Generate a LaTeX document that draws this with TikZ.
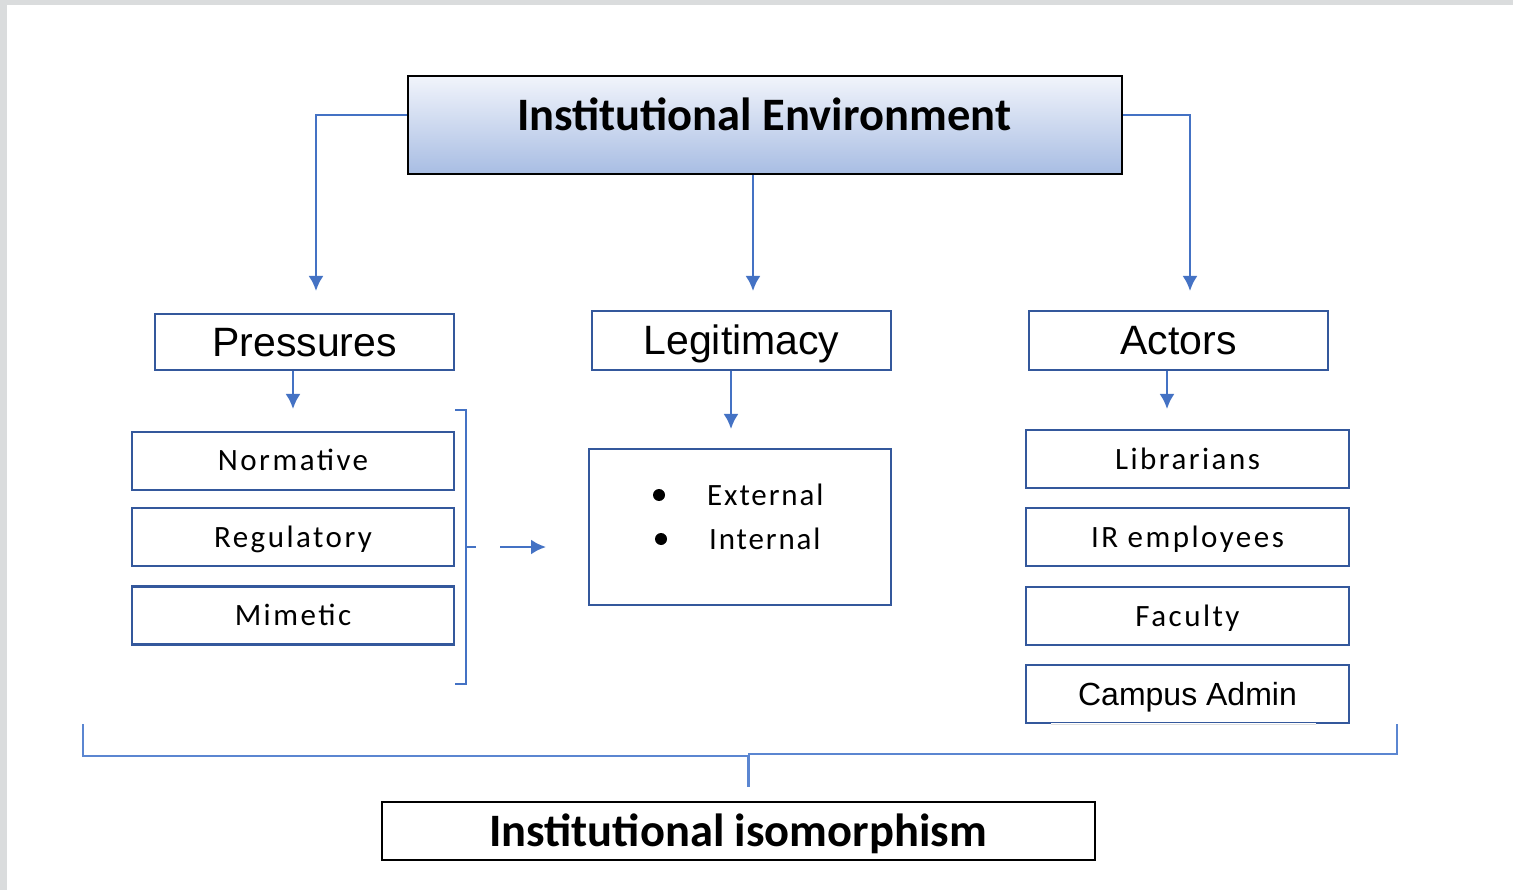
\documentclass[tikz,border=0pt]{standalone}
\usepackage{fontspec}
\usepackage{tikz}
\usetikzlibrary{arrows.meta}
\tikzset{>={Latex[length=12pt,width=13pt]}}
\newfontfamily\calibri{Carlito}
\newfontfamily\calibrisp[LetterSpace=8]{Carlito}
\newfontfamily\calibrisq[LetterSpace=6]{Carlito}
\newfontfamily\arial{Liberation Sans}
\definecolor{boxblue}{HTML}{34589C}
\definecolor{lineblue}{HTML}{4472C4}
\definecolor{brkblue}{HTML}{5B86D1}
\definecolor{envtop}{HTML}{F1F4FB}
\definecolor{envbot}{HTML}{A8BDE3}
\definecolor{framegray}{HTML}{DADCDD}

\begin{document}
\begin{tikzpicture}[x=1pt,y=-1pt,
    headbox/.style={draw=boxblue,line width=2.5pt,minimum width=299pt,minimum height=59pt,inner sep=0pt,text height=29pt,text depth=0pt,font=\arial\fontsize{41}{48}\selectfont},
    subbox/.style={draw=boxblue,line width=2.5pt,minimum width=322pt,minimum height=58pt,inner sep=0pt,text height=20pt,text depth=0pt,font=\calibrisp\fontsize{31}{36}\selectfont},
    titlebox/.style={draw=black,line width=2.5pt,inner sep=0pt},
    titletext/.style={inner sep=0pt,font=\calibri\bfseries\fontsize{46.5}{56}\selectfont},
    conn/.style={draw=lineblue,line width=2.5pt},
    arr/.style={-{Latex[length=15pt,width=15pt]}}]
    \useasboundingbox (0,0) rectangle (1513,890);
    \fill[framegray] (0,0) rectangle (1513,890);
    \fill[white] (7,5) rectangle (1513,890);

    \node[titlebox,minimum width=714pt,minimum height=98pt,top color=envtop,bottom color=envbot] (env) at (765,125) {};
    \node[titletext] (envtxt) at (764,114) {Institutional Environment};

    \node[headbox,minimum height=56pt] (press) at (304.5,342) {Pressures};
    \node[headbox] (legit) at (741.5,340.5) {Legitimacy};
    \node[headbox] (actors) at (1178.5,340.5) {Actors};

    \coordinate (pin) at (316,291);
    \coordinate (lin) at (753,291);
    \coordinate (ain) at (1190,291);
    \draw[conn,arr] ([yshift=10pt]env.west) -| (pin);
    \draw[conn,arr] (env.south -| lin) -- (lin);
    \draw[conn,arr] ([yshift=10pt]env.east) -| (ain);

    \foreach \y/\t/\n in {461/Normative/nor,537/Regulatory/reg,615.5/Mimetic/mim} {
      \node[subbox] (\n) at (293,\y) {\t};
    }
    \foreach \y/\t/\n in {459/Librarians/lib,537/IR employees/ire,616/Faculty/fac} {
      \node[subbox,minimum width=323pt] (\n) at (1187.5,\y) {\t};
    }
    \node[subbox,minimum width=323pt,text height=22pt,font=\arial\fontsize{32}{38}\selectfont] (cam) at (1187.5,694) {Campus Admin};
    \draw[white,line width=3pt] ([xshift=26pt]cam.south west) -- ([xshift=-34pt]cam.south east);
    \draw[gray!25,line width=1pt] ([xshift=26pt]cam.south west) -- ([xshift=-34pt]cam.south east);

    \node[draw=boxblue,line width=2.5pt,minimum width=302pt,minimum height=156pt,inner sep=0pt] (ext) at (740,527) {};
    \fill (659,495) circle (6);
    \fill (661,539) circle (6);
    \node[anchor=west,inner sep=0pt,font=\calibrisq\fontsize{31}{36}\selectfont] (extxt) at (707,495) {External};
    \node[anchor=west,inner sep=0pt,font=\calibrisq\fontsize{31}{36}\selectfont] (intxt) at (709,539) {Internal};

    \coordinate (psub) at (293,409);
    \coordinate (lsub) at (731,429);
    \coordinate (asub) at (1167,409);
    \draw[conn,arr] (press.south -| psub) -- (psub);
    \draw[conn,arr] (legit.south -| lsub) -- (lsub);
    \draw[conn,arr] (actors.south -| asub) -- (asub);

    \draw[conn] (455,410) -- (466,410) -- (466,684) -- (455,684);
    \draw[conn] (466,547) -- (476,547);
    \coordinate (brk) at (500,547);
    \coordinate (brkend) at (546,547);
    \draw[conn,arr] (brk) -- (brkend);

    \node[titlebox,minimum width=713pt,minimum height=58pt] (iso) at (738.5,831) {};
    \node[titletext] (isotxt) at (738,834) {Institutional isomorphism};
    \coordinate (stub) at (748,787);
    \draw[draw=brkblue,line width=1.6pt] (83,724) -- (83,756) -- (748,756);
    \draw[draw=brkblue,line width=1.6pt] (748,754) -- (1397,754) -- (1397,724);
    \draw[draw=brkblue,line width=3pt] (748,755) -- (stub);
\end{tikzpicture}
\end{document}
